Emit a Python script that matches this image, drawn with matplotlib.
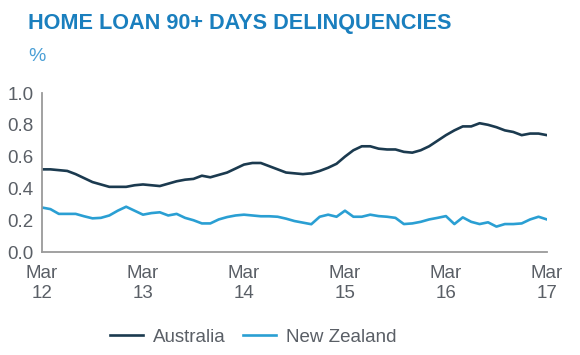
import matplotlib
matplotlib.use("agg")
import matplotlib.pyplot as plt
import numpy as np

plt.rcParams["font.family"] = ["Liberation Sans", "DejaVu Sans"]

# monthly values, Mar 2012 .. Mar 2017
australia = [0.52, 0.52, 0.515, 0.51, 0.49, 0.465, 0.44, 0.425, 0.41, 0.41,
             0.41, 0.42, 0.425, 0.42, 0.415, 0.43, 0.445, 0.455, 0.46, 0.48,
             0.47, 0.485, 0.50, 0.525, 0.55, 0.56, 0.56, 0.54, 0.52, 0.50,
             0.495, 0.49, 0.495, 0.51, 0.53, 0.555, 0.60, 0.64, 0.665, 0.665,
             0.65, 0.645, 0.645, 0.63, 0.625, 0.64, 0.665, 0.70, 0.735, 0.765,
             0.79, 0.79, 0.81, 0.80, 0.785, 0.765, 0.755, 0.735, 0.745, 0.745,
             0.735]
new_zealand = [0.28, 0.27, 0.24, 0.24, 0.24, 0.225, 0.212, 0.215, 0.23, 0.26,
               0.285, 0.26, 0.235, 0.245, 0.25, 0.23, 0.24, 0.215, 0.20, 0.18,
               0.18, 0.205, 0.22, 0.23, 0.235, 0.23, 0.225, 0.225, 0.222, 0.21,
               0.195, 0.185, 0.175, 0.222, 0.235, 0.222, 0.26, 0.222, 0.222, 0.235,
               0.226, 0.222, 0.215, 0.176, 0.18, 0.19, 0.205, 0.215, 0.226, 0.176,
               0.218, 0.19, 0.176, 0.187, 0.16, 0.176, 0.176, 0.18, 0.205, 0.222,
               0.205]
tick_labels = ["Mar\n12", "Mar\n13", "Mar\n14", "Mar\n15", "Mar\n16", "Mar\n17"]

months = np.arange(len(australia))
grey = "#5a5f66"

fig = plt.figure(figsize=(5.8, 3.55), dpi=100)
ax = fig.add_axes([0.0724, 0.29, 0.8706, 0.448])

ax.plot(months, australia, color="#1b3a4f", lw=1.9, label="Australia")
ax.plot(months, new_zealand, color="#2a9fd3", lw=1.9, label="New Zealand")

ax.set_xlim(0, 60)
ax.set_ylim(0, 1.0)
ax.set_xticks(np.arange(0, 61, 12))
ax.set_xticklabels(tick_labels, linespacing=1.3)
ax.set_yticks(np.arange(0, 1.01, 0.2))
ax.set_yticklabels(["%.1f" % v for v in np.arange(0, 1.01, 0.2)])
ax.tick_params(length=0, labelsize=13.5, labelcolor=grey, pad=6)
ax.tick_params(axis="x", pad=9)
for s in ["top", "right"]:
    ax.spines[s].set_visible(False)
for s in ["left", "bottom"]:
    ax.spines[s].set_color("#9a9a9a")
    ax.spines[s].set_linewidth(1.3)

fig.text(0.048, 0.918, "HOME LOAN 90+ DAYS DELINQUENCIES", fontsize=15.6,
         fontweight="bold", color="#1a7fbe")
fig.text(0.048, 0.828, "%", fontsize=14, color="#4a9fd6")

fig.legend(loc="center left", bbox_to_anchor=(0.19, 1 - 337 / 355), ncol=2,
           frameon=False, fontsize=13.5, handlelength=1.75, handletextpad=0.55,
           columnspacing=0.9, borderpad=0, borderaxespad=0, labelcolor=grey)

fig.savefig("out.png", dpi=100)
